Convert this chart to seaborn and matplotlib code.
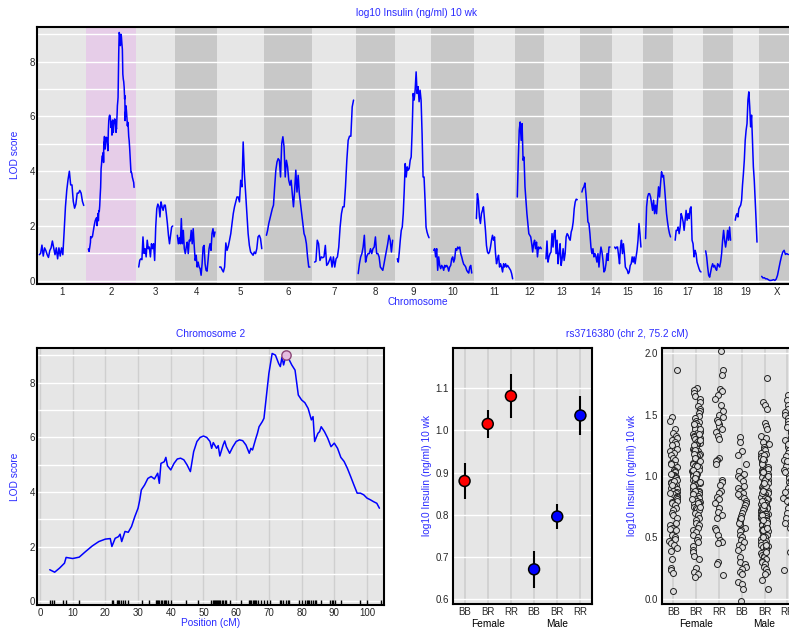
import numpy as np
import pandas as pd
import matplotlib
matplotlib.use("Agg")
import matplotlib.pyplot as plt
import seaborn as sns

# ---------------------------------------------------------------- data
chrom_names = ["1", "2", "3", "4", "5", "6", "7", "8", "9", "10",
               "11", "12", "13", "14", "15", "16", "17", "18", "19", "X"]
# scanned length (cM) of each chromosome; chr2 uses its own positions
chrom_lengths = [98, None, 75, 83, 93, 96, 86, 76, 70, 84,
                 80, 53, 69, 62, 58, 55, 57, 55, 48, 70]

# LOD profiles along each chromosome (evenly spaced scan positions)
lod_chr1 = [0.95, 1.0, 1.3, 0.9, 1.2, 1.1, 0.95, 0.85, 1.1, 1.2, 1.45, 1.2, 0.95, 1.2, 0.8,
            1.2, 0.9, 1.2, 0.95, 1.8, 2.7, 3.3, 3.7, 4.0, 3.5, 3.5, 2.9, 2.65, 2.8, 3.2,
            3.2, 3.3, 3.2, 2.9, 2.75]
lod_chr3 = [0.5, 0.75, 0.8, 0.77, 1.6, 1.0, 1.17, 0.87, 1.48, 1.17, 1.23, 0.87, 1.35, 1.17,
            1.35, 0.74, 1.96, 2.63, 2.8, 2.72, 2.33, 2.88, 2.7, 2.57, 2.76, 2.76, 2.45, 2.09,
            1.66, 1.35, 1.66, 1.96, 2.0]
lod_chr4 = [1.66, 1.35, 1.57, 1.35, 2.27, 1.35, 1.84, 1.17, 0.99, 1.23, 1.41, 0.99, 1.48, 1.45,
            1.84, 1.35, 1.9, 1.29, 0.74, 0.93, 0.5, 0.68, 0.5, 0.44, 0.2, 0.62, 1.23, 1.29,
            0.62, 0.38, 0.35, 0.74, 1.17, 1.35, 1.11, 1.72, 1.9, 1.6, 1.78]
lod_chr5 = [0.5, 0.5, 0.4, 0.32, 0.5, 1.38, 1.11, 1.26, 1.48, 1.72, 2.09, 2.45, 2.7, 2.88, 3.06,
            3.06, 2.88, 3.67, 3.43, 5.07, 3.91, 3.18, 2.45, 1.72, 1.29, 1.05, 0.99, 0.93, 1.05,
            0.99, 1.17, 1.6, 1.66, 1.54, 1.17]
lod_chr6 = [1.66, 1.84, 2.09, 2.27, 2.45, 2.63, 2.76, 3.43, 4.04, 4.34, 4.46, 4.4, 3.79, 5.01,
            5.26, 4.89, 3.79, 4.4, 4.16, 3.67, 3.49, 3.67, 3.18, 2.7, 3.3, 4.04, 3.24, 3.85,
            3.18, 2.82, 2.45, 2.09, 1.72, 1.6, 1.35, 0.87, 0.5, 0.5]
lod_chr7 = [0.68, 0.71, 1.48, 1.35, 0.74, 0.87, 0.84, 0.87, 1.29, 0.56, 0.62, 0.74, 0.87, 0.5,
            0.87, 0.5, 0.8, 0.87, 1.23, 1.96, 2.45, 2.7, 2.7, 3.43, 4.4, 5.13, 5.28, 5.28,
            6.35, 6.6]
lod_chr8 = [0.26, 0.62, 0.87, 0.99, 1.23, 1.66, 0.68, 0.89, 0.99, 0.99, 1.17, 0.99, 1.17, 1.23,
            1.6, 0.99, 0.99, 0.87, 0.5, 0.44, 0.38, 0.62, 0.87, 1.11, 1.35, 1.66, 1.48, 1.05,
            1.48]
lod_chr9 = [0.8, 0.68, 1.05, 1.48, 1.84, 1.96, 2.45, 3.3, 4.28, 3.79, 4.16, 4.04, 4.1, 4.4,
            4.52, 5.5, 6.84, 6.6, 6.96, 7.63, 6.84, 7.09, 6.54, 6.96, 6.6, 5.38, 3.79, 3.79,
            2.94, 1.96, 1.78, 1.66, 1.57]
lod_chr10 = [1.11, 1.17, 0.87, 1.17, 0.38, 0.87, 0.56, 0.44, 0.56, 0.5, 0.38, 0.56, 0.5, 0.56,
             0.5, 0.35, 0.5, 0.56, 0.8, 0.87, 0.68, 0.8, 1.17, 1.11, 1.23, 1.17, 1.23, 0.99,
             0.87, 0.72, 0.6, 0.56, 0.5, 0.38, 0.32, 0.28, 0.5, 0.56, 0.28]
lod_chr11 = [2.27, 3.18, 2.94, 2.33, 2.09, 2.45, 2.57, 2.7, 2.27, 1.84, 1.29, 1.05, 0.99, 1.05,
             1.23, 1.48, 1.66, 1.48, 1.6, 0.99, 0.62, 0.8, 0.93, 0.5, 0.62, 0.5, 0.32, 0.62,
             0.5, 0.62, 0.5, 0.56, 0.5, 0.44, 0.38, 0.26, 0.07]
lod_chr12 = [3.06, 4.4, 5.5, 5.8, 5.13, 5.74, 4.4, 4.52, 3.43, 2.94, 2.45, 2.09, 1.72, 1.66,
             1.6, 1.35, 1.05, 1.35, 1.48, 1.17, 1.41, 0.87, 1.23, 1.17, 1.23, 1.17]
lod_chr13 = [0.8, 1.45, 0.68, 0.87, 0.99, 1.05, 1.72, 1.23, 1.72, 1.84, 0.99, 1.48, 0.62, 0.99,
             1.35, 0.56, 0.8, 1.17, 0.74, 0.99, 1.6, 1.72, 1.66, 1.54, 1.48, 1.78, 1.9, 2.15,
             2.63, 2.88, 2.98, 2.96]
lod_chr14 = [3.24, 3.37, 3.43, 3.57, 3.18, 2.7, 2.15, 2.09, 1.72, 1.23, 0.99, 1.17, 0.87, 0.99,
             0.87, 0.68, 0.99, 0.5, 0.93, 1.23, 1.05, 0.74, 0.32, 0.38, 0.62, 0.99, 0.74, 1.23,
             1.23]
lod_chr15 = [1.23, 1.17, 1.23, 1.23, 0.93, 0.62, 1.23, 1.48, 0.99, 1.35, 0.99, 0.5, 0.44, 0.38,
             0.26, 0.32, 0.56, 0.62, 0.87, 0.68, 0.87, 0.62, 0.87, 1.11, 1.48, 2.09, 1.72, 1.23]
lod_chr16 = [1.54, 2.7, 3.06, 3.18, 3.18, 3.06, 2.82, 2.57, 2.94, 2.45, 2.76, 2.45, 2.94, 3.43,
             3.06, 3.55, 3.98, 3.79, 3.85, 3.43, 2.94, 2.45, 2.15, 1.9, 1.72, 1.6]
lod_chr17 = [1.48, 1.84, 1.84, 1.96, 1.72, 1.96, 2.45, 2.33, 2.15, 1.84, 2.21, 2.57, 2.21, 2.45,
             2.27, 2.63, 2.7, 1.48, 1.35, 0.87, 1.11, 0.99, 0.68, 0.56, 0.44, 0.35, 0.32]
lod_chr18 = [1.09, 0.87, 0.5, 0.2, 0.13, 0.32, 0.5, 0.62, 0.5, 0.56, 0.44, 0.38, 0.62, 0.56,
             0.5, 0.68, 0.99, 1.48, 1.84, 1.48, 1.23, 1.48, 1.84, 1.48, 1.96, 1.48]
lod_chr19 = [2.21, 2.39, 2.45, 2.33, 2.63, 2.7, 2.76, 2.94, 3.49, 3.91, 4.4, 5.13, 5.5, 5.74,
             6.6, 6.9, 6.35, 5.62, 6.05, 5.13, 4.16, 3.67, 2.94, 2.21, 1.41]
lod_chrX = [0.16, 0.1, 0.11, 0.07, 0.07, 0.04, 0.01, 0.01, 0.02, 0.04, 0.01, 0.06, 0.2, 0.44,
            0.68, 0.89, 1.05, 1.11, 0.96, 0.99, 0.96, 0.96, 0.95, 0.92, 0.9]

# chromosome 2 scan, positions in cM
chr2_pos = [3, 4.5, 6, 7.5, 8, 10, 12, 14, 16, 18, 20, 21.5, 22, 23, 24, 24.5, 25, 26, 27, 28,
            29, 30, 30.5, 31, 32, 33, 34, 35, 36, 36.5, 37, 38, 38.5, 39, 40, 41, 42, 43, 44,
            45, 46, 47, 48, 49, 50, 51, 52, 52.5, 53, 54, 54.5, 55, 56, 56.5, 57, 58, 59, 60,
            61, 62, 63, 64, 64.5, 65, 66, 66.5, 67, 68, 68.5, 69, 70, 71, 72, 73, 73.5, 74,
            74.5, 75.2, 76, 77, 78, 79, 80, 81, 82, 83, 83.5, 84, 85, 85.5, 86, 87, 88, 89, 90,
            91, 92, 93, 94, 95, 96, 97, 98, 99, 100, 101, 102, 103, 103.8]
chr2_lod = [1.16, 1.07, 1.22, 1.40, 1.61, 1.57, 1.62, 1.83, 2.03, 2.19, 2.28, 2.30, 2.01, 2.31,
            2.37, 2.46, 2.19, 2.56, 2.53, 2.74, 3.1, 3.41, 3.7, 4.08, 4.26, 4.5, 4.57, 4.48,
            4.69, 4.32, 5.05, 5.11, 5.27, 4.96, 4.81, 5.05, 5.21, 5.24, 5.18, 4.99, 4.75, 5.48,
            5.85, 6.0, 6.05, 6.0, 5.85, 5.6, 5.81, 5.6, 5.7, 5.32, 5.72, 5.87, 5.66, 5.42, 5.66,
            5.85, 5.91, 5.88, 5.72, 5.42, 5.6, 5.54, 5.96, 6.15, 6.39, 6.58, 6.7, 7.25, 8.34,
            9.07, 9.01, 8.7, 8.59, 8.93, 8.65, 9.0, 8.89, 8.65, 8.46, 7.55, 7.37, 7.27, 7.06,
            6.64, 6.76, 5.85, 6.15, 6.21, 6.39, 6.21, 5.97, 5.66, 5.79, 5.6, 5.27, 5.12, 4.87,
            4.57, 4.26, 3.96, 3.96, 3.9, 3.78, 3.72, 3.65, 3.59, 3.41]
chr2_markers = [3.1, 3.6, 4.3, 7.1, 7.9, 12.0, 21.9, 22.4, 23.5, 23.9, 24.3, 24.7, 25.3, 26.0,
                26.8, 31.3, 33.4, 35.4, 35.7, 36.1, 36.5, 36.9, 37.3, 37.8, 38.2, 38.6, 39.1,
                40.0, 44.7, 48.2, 52.4, 52.8, 53.1, 53.4, 53.7, 54.0, 54.3, 54.6, 55.1, 55.6,
                56.1, 56.6, 57.0, 58.1, 61.4, 63.8, 64.2, 64.6, 65.0, 65.4, 65.8, 66.2, 66.6,
                67.7, 68.4, 69.4, 70.4, 73.3, 73.8, 74.3, 75.3, 75.9, 76.3, 79.2, 80.0, 81.0,
                81.6, 82.0, 82.4, 83.0, 83.5, 84.1, 84.5, 86.0, 88.8, 89.2, 89.6, 90.1, 92.1,
                98.0, 100.0, 104.2]
peak_marker = "rs3716380"
peak_pos = 75.2
peak_lod = 9.0

# phenotype by sex and genotype at the peak marker
sexes = ["Female", "Female", "Female", "Male", "Male", "Male"]
genotypes = ["BB", "BR", "RR", "BB", "BR", "RR"]
group_means = [0.880, 1.015, 1.081, 0.671, 0.796, 1.035]
group_lo = [0.838, 0.982, 1.028, 0.626, 0.767, 0.989]
group_hi = [0.922, 1.047, 1.133, 0.714, 0.825, 1.082]

female_BB = [1.86, 1.48, 1.45, 1.38, 1.35, 1.33, 1.31, 1.29, 1.28, 1.26, 1.25, 1.22, 1.20, 1.19,
             1.17, 1.15, 1.13, 1.11, 1.09, 1.07, 1.05, 1.04, 1.03, 1.01, 1.00, 0.99, 0.98, 0.97,
             0.95, 0.94, 0.93, 0.92, 0.91, 0.90, 0.89, 0.88, 0.87, 0.86, 0.85, 0.84, 0.83, 0.82,
             0.81, 0.80, 0.79, 0.78, 0.76, 0.74, 0.72, 0.70, 0.68, 0.66, 0.62, 0.60, 0.58, 0.57,
             0.56, 0.52, 0.50, 0.49, 0.47, 0.45, 0.44, 0.41, 0.39, 0.32, 0.25, 0.23, 0.21, 0.06,
             0.96, 0.93, 1.02, 0.86, 1.10]
female_BR = [1.72, 1.70, 1.68, 1.65, 1.63, 1.60, 1.57, 1.55, 1.53, 1.51, 1.49, 1.47, 1.45, 1.44,
             1.43, 1.42, 1.41, 1.40, 1.38, 1.37, 1.36, 1.35, 1.34, 1.33, 1.32, 1.31, 1.30, 1.29,
             1.28, 1.27, 1.26, 1.25, 1.24, 1.23, 1.22, 1.21, 1.20, 1.19, 1.18, 1.17, 1.16, 1.15,
             1.14, 1.13, 1.12, 1.11, 1.10, 1.09, 1.08, 1.07, 1.06, 1.05, 1.04, 1.03, 1.02, 1.01,
             1.00, 0.99, 0.98, 0.97, 0.96, 0.95, 0.94, 0.93, 0.92, 0.91, 0.90, 0.89, 0.88, 0.87,
             0.86, 0.85, 0.84, 0.83, 0.82, 0.81, 0.80, 0.79, 0.78, 0.77, 0.76, 0.75, 0.74, 0.73,
             0.72, 0.70, 0.68, 0.66, 0.64, 0.62, 0.60, 0.58, 0.56, 0.54, 0.52, 0.50, 0.48, 0.46,
             0.43, 0.40, 0.38, 0.35, 0.32, 0.25, 0.22, 0.20, 0.18, 1.42, 1.38, 1.34, 1.29, 1.25,
             1.21, 1.18, 1.15, 1.12, 1.08, 1.05, 1.02, 0.98, 0.95, 0.92, 0.88, 0.85, 0.81, 0.78,
             0.75]
female_RR = [2.02, 1.86, 1.82, 1.71, 1.69, 1.66, 1.63, 1.58, 1.53, 1.50, 1.48, 1.46, 1.42, 1.41,
             1.38, 1.36, 1.33, 1.30, 1.15, 1.13, 1.12, 1.10, 0.97, 0.95, 0.88, 0.86, 0.83, 0.81,
             0.78, 0.74, 0.71, 0.68, 0.66, 0.58, 0.56, 0.52, 0.48, 0.46, 0.45, 0.30, 0.28, 0.19,
             1.44, 0.93]
male_BB = [1.32, 1.28, 1.20, 1.17, 1.10, 1.04, 1.02, 1.00, 0.98, 0.96, 0.92, 0.90, 0.88, 0.86,
           0.84, 0.82, 0.80, 0.78, 0.76, 0.74, 0.72, 0.70, 0.67, 0.65, 0.63, 0.61, 0.58, 0.56,
           0.55, 0.52, 0.50, 0.48, 0.46, 0.44, 0.42, 0.40, 0.34, 0.30, 0.28, 0.26, 0.24, 0.22,
           0.20, 0.14, 0.12, 0.08, -0.02, 0.85, 0.62, 0.66]
male_BR = [1.80, 1.60, 1.58, 1.55, 1.43, 1.41, 1.38, 1.33, 1.31, 1.28, 1.26, 1.24, 1.22, 1.21,
           1.19, 1.18, 1.16, 1.15, 1.13, 1.12, 1.11, 1.09, 1.08, 1.07, 1.06, 1.05, 1.04, 1.03,
           1.02, 1.01, 1.00, 0.99, 0.99, 0.98, 0.97, 0.96, 0.96, 0.95, 0.94, 0.93, 0.93, 0.92,
           0.91, 0.90, 0.90, 0.89, 0.88, 0.87, 0.87, 0.86, 0.85, 0.84, 0.84, 0.83, 0.82, 0.81,
           0.81, 0.80, 0.79, 0.78, 0.78, 0.77, 0.76, 0.75, 0.75, 0.74, 0.73, 0.72, 0.72, 0.71,
           0.70, 0.69, 0.69, 0.68, 0.67, 0.66, 0.66, 0.65, 0.64, 0.63, 0.63, 0.62, 0.61, 0.60,
           0.60, 0.59, 0.58, 0.57, 0.57, 0.56, 0.55, 0.54, 0.53, 0.52, 0.51, 0.50, 0.49, 0.48,
           0.47, 0.46, 0.45, 0.44, 0.43, 0.42, 0.41, 0.40, 0.38, 0.37, 0.36, 0.35, 0.34, 0.32,
           0.31, 0.30, 0.28, 0.26, 0.24, 0.22, 0.20, 0.15, 0.08, 1.17, 1.10, 1.03, 0.97, 0.92,
           0.86, 0.80, 0.74, 0.68, 0.62, 0.56, 0.50, 0.44, 0.38, 1.14, 1.00, 0.94, 0.88, 0.76,
           0.64, 0.58]
male_RR = [1.66, 1.62, 1.58, 1.55, 1.52, 1.50, 1.47, 1.45, 1.42, 1.40, 1.37, 1.35, 1.32, 1.29,
           1.27, 1.24, 1.21, 1.19, 1.16, 1.13, 1.10, 1.08, 1.05, 1.03, 1.00, 0.98, 0.95, 0.93,
           0.90, 0.88, 0.85, 0.82, 0.80, 0.77, 0.74, 0.70, 0.66, 0.62, 0.58, 0.38, 0.23, 1.26,
           1.12, 0.97, 0.87]
phenotype_groups = [female_BB, female_BR, female_RR, male_BB, male_BR, male_RR]

# ---------------------------------------------------------------- style
W, H = 789, 630
sns.set_style("white")
plt.rcParams["font.family"] = ["Liberation Sans", "DejaVu Sans"]
LIGHT, DARK, SELECTED = "#e6e6e6", "#c8c8c8", "#e6cde8"
LABEL_BLUE = "#2a2aff"
TICK_FS, LABEL_FS = 7.0, 7.3
CHR_GAP = 10.3


def px_axes(fig, left, top, right, bottom):
    return fig.add_axes([left / W, 1 - bottom / H, (right - left) / W, (bottom - top) / H])


def frame(ax):
    for s in ax.spines.values():
        s.set_visible(True)
        s.set_color("black")
        s.set_linewidth(1.5)
        s.set_zorder(5)


def ftext(fig, x, y, s, **kw):
    fig.text(x / W, 1 - y / H, s, color=LABEL_BLUE, fontsize=LABEL_FS,
             ha="center", va="center", **kw)


fig = plt.figure(figsize=(W / 100, H / 100), dpi=100)

# ---------------------------------------------------------------- genome scan
profiles = [lod_chr1, chr2_lod, lod_chr3, lod_chr4, lod_chr5, lod_chr6, lod_chr7, lod_chr8,
            lod_chr9, lod_chr10, lod_chr11, lod_chr12, lod_chr13, lod_chr14, lod_chr15,
            lod_chr16, lod_chr17, lod_chr18, lod_chr19, lod_chrX]
rows, boxes = [], []
cursor = 0.0
for name, length, lod in zip(chrom_names, chrom_lengths, profiles):
    pos = np.asarray(chr2_pos) if name == "2" else np.linspace(0, length, len(lod))
    span = pos.max() - pos.min()
    gx = cursor + CHR_GAP / 2 + (pos - pos.min())
    rows.append(pd.DataFrame({"chr": name, "gx": gx, "lod": lod}))
    boxes.append((cursor, cursor + span + CHR_GAP))
    cursor += span + CHR_GAP
scan = pd.concat(rows, ignore_index=True)

ax1 = px_axes(fig, 37, 27, 795.7, 284)
for i, (name, (a, b)) in enumerate(zip(chrom_names, boxes)):
    col = SELECTED if name == "2" else (LIGHT if i % 2 == 0 else DARK)
    ax1.axvspan(a, b, color=col, lw=0, zorder=0)
for y in range(0, 10):
    ax1.axhline(y, color="white", lw=1, zorder=0.5)
sns.lineplot(data=scan, x="gx", y="lod", units="chr", estimator=None, color="blue",
             lw=1.1, ax=ax1, legend=False, zorder=2)
ax1.set_xlim(0, cursor)
ax1.set_ylim(-0.12, 9.27)
ax1.set_xticks([(a + b) / 2 for a, b in boxes], chrom_names)
ax1.set_yticks([0, 2, 4, 6, 8])
ax1.tick_params(length=0, labelsize=TICK_FS)
ax1.tick_params(axis="x", pad=2.5)
ax1.tick_params(axis="y", pad=1.5)
ax1.set_xlabel("")
ax1.set_ylabel("")
frame(ax1)
ftext(fig, 417, 13, "log10 Insulin (ng/ml) 10 wk")
ftext(fig, 15, 155, "LOD score", rotation=90)
ftext(fig, 418, 301.5, "Chromosome")

# ---------------------------------------------------------------- chromosome 2
ax2 = px_axes(fig, 37, 348, 384, 605)
ax2.set_facecolor(LIGHT)
for x in range(0, 110, 10):
    ax2.axvline(x, color="#cfcfcf", lw=1, zorder=0.4)
for y in range(0, 10):
    ax2.axhline(y, color="white", lw=1, zorder=0.5)
sns.lineplot(x=chr2_pos, y=chr2_lod, color="blue", lw=1.1, ax=ax2, zorder=2)
sns.rugplot(x=chr2_markers, height=0.02, color="black", lw=0.8, ax=ax2)
sns.scatterplot(x=[peak_pos], y=[peak_lod], s=45, color="#e5bde0", edgecolor="#8b4577",
                linewidth=1.0, ax=ax2, zorder=4)
ax2.set_xlim(-0.9, 105.2)
ax2.set_ylim(-0.13, 9.27)
ax2.set_xticks(range(0, 110, 10))
ax2.set_yticks([0, 2, 4, 6, 8])
ax2.tick_params(length=0, labelsize=TICK_FS)
ax2.tick_params(axis="x", pad=2.2)
ax2.tick_params(axis="y", pad=1.5)
frame(ax2)
ftext(fig, 211, 334, "Chromosome 2")
ftext(fig, 15, 477, "LOD score", rotation=90)
ftext(fig, 211, 623, "Position (cM)")

# ---------------------------------------------------------------- group means
ax3 = px_axes(fig, 453, 348, 592, 604)
ax3.set_facecolor(LIGHT)
xs = np.arange(len(genotypes))
for x in xs:
    ax3.axvline(x, color="#d0d0d0", lw=1.3, zorder=0.4)
for y in [0.6, 0.7, 0.8, 0.9, 1.0, 1.1]:
    ax3.axhline(y, color="white", lw=1, zorder=0.5)
ax3.vlines(xs, group_lo, group_hi, color="black", lw=1.5, zorder=2)
sns.scatterplot(x=xs, y=group_means, hue=sexes, palette={"Female": "red", "Male": "blue"},
                s=62, edgecolor="black", linewidth=1.1, legend=False, ax=ax3, zorder=3)
ax3.set_xlim(-0.5, 5.5)
ax3.set_ylim(0.589, 1.1946)
ax3.set_xticks(xs, genotypes)
ax3.set_yticks([0.6, 0.7, 0.8, 0.9, 1.0, 1.1], ["0.6", "0.7", "0.8", "0.9", "1.0", "1.1"])
ax3.tick_params(length=0, labelsize=TICK_FS)
ax3.tick_params(axis="x", pad=2.0)
ax3.tick_params(axis="y", pad=3)
frame(ax3)
for x, s in [(1, "Female"), (4, "Male")]:
    ax3.text(x, -0.08, s, transform=ax3.get_xaxis_transform(), ha="center", va="center",
             fontsize=LABEL_FS, color="black")
ftext(fig, 427, 475, "log10 Insulin (ng/ml) 10 wk", rotation=90)
ftext(fig, 627, 334, f"{peak_marker} (chr 2, {peak_pos} cM)")

# ---------------------------------------------------------------- individual values
group_keys = [f"{s} {g}" for s, g in zip(sexes, genotypes)]
pts = pd.DataFrame({
    "group": np.repeat(group_keys, [len(v) for v in phenotype_groups]),
    "value": np.concatenate(phenotype_groups),
})
ax4 = px_axes(fig, 662, 348, 798.8, 604)
ax4.set_facecolor(LIGHT)
for x in xs:
    ax4.axvline(x, color="#d0d0d0", lw=1.3, zorder=0.4)
for y in [0.0, 0.5, 1.0, 1.5, 2.0]:
    ax4.axhline(y, color="white", lw=1, zorder=0.5)
sns.stripplot(data=pts, x="group", y="value", order=group_keys, jitter=0.18, size=4.3,
              color="#dcdcdc", edgecolor="#222222", linewidth=0.7, ax=ax4, zorder=2)
ax4.set_xlim(-0.5, 5.5)
ax4.set_ylim(-0.043, 2.043)
ax4.set_xticks(xs, genotypes)
ax4.set_yticks([0, 0.5, 1.0, 1.5, 2.0], ["0.0", "0.5", "1.0", "1.5", "2.0"])
ax4.tick_params(length=0, labelsize=TICK_FS)
ax4.tick_params(axis="x", pad=2.0)
ax4.tick_params(axis="y", pad=3)
ax4.set_xlabel("")
ax4.set_ylabel("")
frame(ax4)
for x, s in [(1, "Female"), (4, "Male")]:
    ax4.text(x, -0.08, s, transform=ax4.get_xaxis_transform(), ha="center", va="center",
             fontsize=LABEL_FS, color="black")
ftext(fig, 632, 475, "log10 Insulin (ng/ml) 10 wk", rotation=90)

fig.savefig("out.png", dpi=100)
